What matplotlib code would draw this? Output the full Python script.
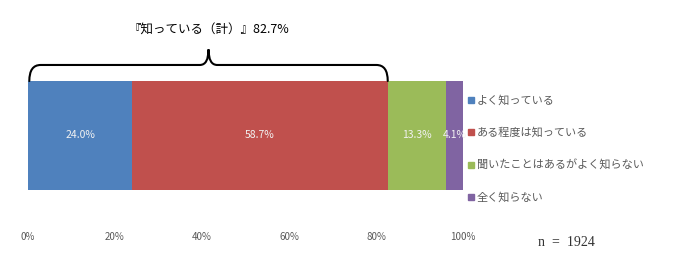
import matplotlib.pyplot as plt
from matplotlib.path import Path
from matplotlib.patches import PathPatch
from matplotlib.lines import Line2D
import matplotlib.transforms as mtransforms

plt.rcParams['font.family'] = ['Noto Sans CJK JP', 'DejaVu Sans']

# data
categories = ['よく知っている', 'ある程度は知っている', '聞いたことはあるがよく知らない', '全く知らない']
values = [24.0, 58.7, 13.3, 4.1]
colors = ['#4F81BD', '#C0504D', '#9BBB59', '#8064A2']
ticks = [0, 20, 40, 60, 80, 100]
tick_labels = ['0%', '20%', '40%', '60%', '80%', '100%']
known_total = 82.7
n_text = 'n  =  1924'

fig = plt.figure(figsize=(6.75, 2.79), dpi=100)
ax = fig.add_axes([28 / 675, 1 - 190 / 279, 435 / 675, 109 / 279])

left = 0
for cat, v, c in zip(categories, values, colors):
    ax.barh(0, v, left=left, height=1.0, color=c, label=cat)
    ax.text(left + v / 2, 0, f'{v:.1f}%', ha='center', va='center',
            color='#F2F2F2', fontsize=7.5)
    left += v

ax.set_xlim(0, 100)
ax.set_ylim(-0.5, 0.5)
ax.set_yticks([])
ax.set_xticks(ticks)
ax.set_xticklabels(tick_labels, fontsize=7, color='#595959')
ax.tick_params(axis='x', length=0, pad=30)
for s in ax.spines.values():
    s.set_visible(False)

# brace over the "known" part
trans = mtransforms.blended_transform_factory(ax.transData, ax.transAxes)
x0, x1 = 0.3, known_total
xm = (x0 + x1) / 2
yb, yh, yp = 1.0, 1.147, 1.29
r = 2.6
p = 2.0
verts = [(x0, yb), (x0, yh), (x0 + r, yh),
         (xm - p, yh),
         (xm, yh), (xm, yp),
         (xm, yh), (xm + p, yh),
         (x1 - r, yh),
         (x1, yh), (x1, yb)]
codes = [Path.MOVETO, Path.CURVE3, Path.CURVE3,
         Path.LINETO,
         Path.CURVE3, Path.CURVE3,
         Path.CURVE3, Path.CURVE3,
         Path.LINETO,
         Path.CURVE3, Path.CURVE3]
ax.add_patch(PathPatch(Path(verts, codes), fill=False, lw=1.5, color='black',
                       transform=trans, clip_on=False, capstyle='round'))
ax.text(xm, 1.47, f'『知っている（計）』{known_total}%', transform=trans,
        ha='center', va='center', fontsize=9, color='black')

handles = [Line2D([], [], marker='s', ls='', color=c, markersize=4) for c in colors]
fig.legend(handles, categories, loc='upper left', bbox_to_anchor=(468 / 675, 1 - 95 / 279),
           frameon=False, fontsize=8, labelcolor='#595959', handlelength=0.6,
           handletextpad=0.2, labelspacing=1.95, borderpad=0, borderaxespad=0)

fig.text(566 / 675, 1 - 243 / 279, n_text, ha='center', va='center',
         fontsize=10, family='Liberation Serif', color='#333333')

fig.savefig('out.png', dpi=100)
